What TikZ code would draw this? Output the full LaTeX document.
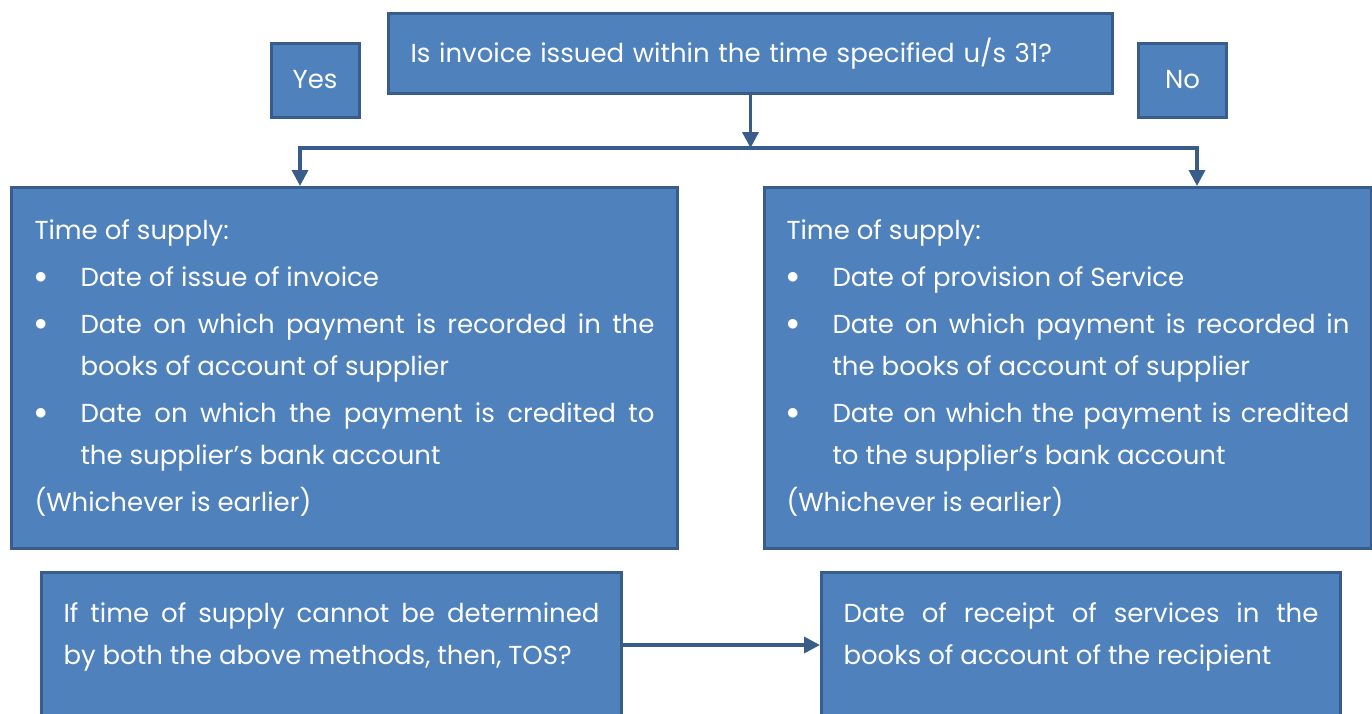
\documentclass[tikz,border=0pt]{standalone}
\usepackage{fontspec}
\setmainfont{Poppins}
\usepackage{tikz}
\usetikzlibrary{arrows.meta,positioning,calc}

\definecolor{boxfill}{HTML}{4F81BD}
\definecolor{boxline}{HTML}{385D8A}

%% bullet item with hanging indent
\newcommand{\tositem}[1]{\par\vspace{5pt}\hangindent=46pt\hangafter=1
    \noindent\makebox[46pt][l]{\raisebox{3pt}{\fontsize{34}{34}\selectfont$\bullet$}}#1}

\begin{document}
\begin{tikzpicture}[
    x=1pt, y=1pt,
    font=\fontsize{26}{42}\selectfont,
    box/.style={
        draw=boxline, line width=3pt, fill=boxfill, text=white,
        inner sep=0pt},
    tos/.style={
        box, align=justify, minimum height=361pt},
    arr/.style={-{Triangle[length=16pt,width=16pt]}, line width=3.5pt, draw=boxline}
]
\useasboundingbox (0,0) rectangle (1372,-713);
\clip (0,0) rectangle (1372,-713);

%% ══════════════════════════════ QUESTION ══════════════════════════════
\node[box, anchor=north west, minimum height=80pt, text width=680pt,
      inner xsep=22pt, align=left] (q_box) at (387,-12)
    {Is invoice issued within the time specified u/s 31?};

\node[box, minimum width=88pt, minimum height=74pt] (yes_lbl) at (315,-80) {Yes};
\node[box, minimum width=88pt, minimum height=74pt] (no_lbl) at (1182.5,-80) {No};

%% ══════════════════════════════ TIME OF SUPPLY ══════════════════════════════
\node[tos, anchor=north west, text width=620pt, inner xsep=23pt] (tos_yes) at (10,-186)
    {Time of supply:
     \tositem{Date of issue of invoice}
     \tositem{Date on which payment is recorded in the\linebreak books of account of supplier}
     \tositem{Date on which the payment is credited to\linebreak the supplier's bank account}
     \par\vspace{5pt}\noindent(Whichever is earlier)};
\node[tos, right=84pt of tos_yes, text width=563pt, inner xsep=22pt] (tos_no)
    {Time of supply:
     \tositem{Date of provision of Service}
     \tositem{Date on which payment is recorded in\linebreak the books of account of supplier}
     \tositem{Date on which the payment is credited\linebreak to the supplier's bank account}
     \par\vspace{5pt}\noindent(Whichever is earlier)};

%% split below the question, then down into both branches
\coordinate (split) at ([yshift=-53pt]q_box.south);
\draw[arr] (q_box.south) -- (split);
\draw[arr] (split) -| ([xshift=290pt]tos_yes.north west);
\draw[arr] (split) -| ([xshift=434pt]tos_no.north west);

%% ══════════════════════════════ FALLBACK ══════════════════════════════
\node[box, anchor=north west, text width=536pt, inner xsep=22pt, inner ysep=30pt,
      text depth=150pt, align=justify] (tos_fb) at (40,-571)
    {If time of supply cannot be determined\linebreak by both the above methods, then, TOS?};
\node[box, right=197pt of tos_fb, text width=475pt, inner xsep=22pt, inner ysep=30pt,
      text depth=150pt, align=justify] (tos_rcpt)
    {Date of receipt of services in the\linebreak books of account of the recipient};

\draw[arr] ([yshift=-74pt]tos_fb.north east) -- ([yshift=-74pt]tos_rcpt.north west);

\end{tikzpicture}
\end{document}
